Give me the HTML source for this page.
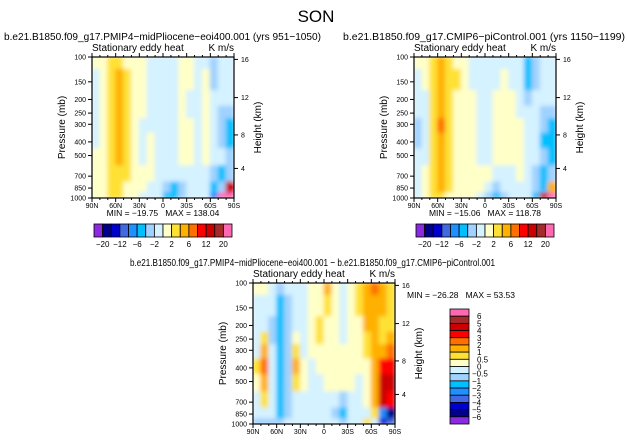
<!DOCTYPE html>
<html><head><meta charset="utf-8"><style>
html,body{margin:0;padding:0;background:#fff;width:627px;height:442px;overflow:hidden}
svg text{font-family:"Liberation Sans",sans-serif;fill:#000;white-space:pre}
</style></head><body>
<svg id="c" width="627" height="442" viewBox="0 0 627 442" xmlns="http://www.w3.org/2000/svg">
<defs><filter id="sm" x="0" y="0" width="1" height="1"><feGaussianBlur stdDeviation="2.2" edgeMode="duplicate"/></filter></defs>
<text x="316" y="22" font-size="17" text-anchor="middle">SON</text>
</svg>
<script>
// ---------- data ----------
const lats = [85,75,65,55,45,35,25,15,5,-5,-15,-25,-35,-45,-55,-65,-75,-85];
const levels = [100,150,200,250,300,400,500,700,850,1000];
const latTicks = ['90N','60N','30N','0','30S','60S','90S'];
const latTickVals = [90,60,30,0,-30,-60,-90];
const heightTickLabels = ['4','8','12','16'];
const heightTickPressure = [617,357,194,104];
const boundsTop = [-20,-16,-12,-8,-6,-4,-2,0,2,4,6,8,12,16,20];
const boundsTopLabels = ['\u221220','\u221212','\u22126','\u22122','2','6','12','20'];
const boundsDiff = [-6,-5,-4,-3,-2,-1,-0.5,0,0.5,1,2,3,4,5,6];
const boundsDiffLabels = ['\u22126','\u22125','\u22124','\u22123','\u22122','\u22121','\u22120.5','0','0.5','1','2','3','4','5','6'];
const palette = ['#8a2be2','#00008b','#0000cd','#4169e1','#1e90ff','#00bfff','#a0d2ff','#d4f2ff','#ffffc8','#ffe135','#ffb000','#ff7000','#ff0000','#cc0000','#a52a2a','#ff69b4'];
const gridA = [
[1,1,3,3,1,1,1,-1,-1,-1,-1,1,1,-1,-1,-3,-1,-1],
[-1,1,3,5,3,1,1,-1,-1,-1,-1,1,1,-1,1,-3,-1,-1],
[-1,1,3,5,3,1,1,-1,-1,-1,-1,1,-1,-1,1,-1,-1,-1],
[-1,1,3,5,3,1,1,-1,-1,-1,-1,1,-1,-1,1,-1,-3,-3],
[-1,1,3,5,3,1,-1,-1,-1,-1,-1,1,1,-1,1,-1,-3,-5],
[-1,1,3,5,3,1,-1,1,-1,-1,-1,1,1,-1,1,-1,-3,-5],
[1,1,3,5,3,1,-1,1,-1,-1,-1,1,1,-1,1,-1,-1,-3],
[1,1,3,3,3,1,1,1,-1,-1,-1,-1,-1,-1,-1,-3,-5,-3],
[1,1,3,3,1,1,1,-1,-1,-3,-5,-3,-1,-1,-1,-5,-3,14],
[1,1,3,3,1,1,-1,-1,-1,-5,-5,-3,-1,-1,-1,-7,25,25]];
const gridB = [
[1,1,3,5,3,1,1,-1,-1,-1,-1,-1,-1,-1,-5,-3,-1,-1],
[-1,1,3,5,3,3,1,-1,-1,-1,-1,1,-1,-1,-5,-3,-1,-1],
[-1,-1,3,5,3,1,1,1,-1,-1,1,1,1,-1,-3,-1,-1,-1],
[-1,-1,3,5,3,1,1,1,-1,-1,1,1,1,-1,-1,-1,-3,-3],
[-3,-1,3,7,3,1,1,1,-1,-1,1,1,1,1,-1,-1,-3,-5],
[-3,-1,3,5,3,1,1,1,-1,-1,1,1,1,1,-1,-1,-5,-5],
[-1,-1,3,5,3,1,1,1,-1,-1,1,1,1,1,-1,-1,-3,-5],
[-1,1,3,5,3,1,1,1,1,1,-1,-1,-1,1,-1,-3,-5,-3],
[-1,1,3,5,3,1,1,1,1,-1,-3,-1,-1,-1,-1,-3,-5,5],
[-1,1,3,3,1,1,1,1,-1,-3,-5,-3,-1,-1,-1,-5,14,25]];
const gridC = [
[0.3,0.3,-0.3,-0.7,-0.3,-0.3,-0.3,0.3,0.3,1.5,0.3,-0.3,0.3,0.7,1.5,2.5,1.5,0.7],
[-0.3,-0.3,-0.3,-1.5,-0.7,-0.3,-0.3,0.3,0.3,0.7,0.3,-0.3,0.3,0.7,1.5,1.5,1.5,0.7],
[-0.3,-0.3,-0.7,-1.5,-0.7,-0.3,-0.3,0.3,0.7,0.3,0.3,-0.3,0.3,0.3,1.5,1.5,0.7,0.7],
[-0.3,0.7,-0.7,-1.5,-0.7,0.3,-0.3,0.3,0.7,0.3,0.3,-0.3,0.3,0.3,0.7,1.5,0.7,1.5],
[-0.3,1.5,-0.3,-1.5,-0.7,0.7,-0.3,0.3,0.3,0.3,0.3,0.3,0.3,0.3,0.7,1.5,1.5,2.5],
[0.7,2.5,-0.3,-1.5,-0.7,1.5,0.3,-0.3,0.3,0.3,0.3,0.3,0.3,0.3,0.3,1.5,3.5,3.5],
[0.3,1.5,-0.3,-1.5,-0.7,0.7,0.3,-0.3,-0.3,0.3,0.3,0.3,0.3,-0.3,0.3,1.5,4.5,4.5],
[-0.3,0.7,-0.3,-1.5,-0.7,-0.3,-0.3,-0.3,-0.3,-0.3,-0.3,-0.7,-0.3,-0.3,0.3,1.5,4.5,3.5],
[-0.3,-0.3,-0.3,-1.5,-0.7,-0.3,-0.3,-0.3,-0.3,-0.3,-0.7,-1.5,-0.3,-0.3,-0.3,0.7,-2.5,-5.5],
[-0.7,-0.7,-0.7,-0.7,-0.3,-0.3,-0.3,-0.3,-0.3,-0.3,-0.3,-0.7,-0.3,-0.3,0.7,-0.3,-4.5,-3.5]];

// ---------- drawing ----------
const NS='http://www.w3.org/2000/svg';
const svg=document.getElementById('c');
function mk(tag,attrs,parent){const e=document.createElementNS(NS,tag);for(const k in attrs)e.setAttribute(k,attrs[k]);(parent||svg).appendChild(e);return e;}
function txt(s,x,y,size,anchor,parent){const t=mk('text',{x:x,y:y,'font-size':size,'text-anchor':anchor||'start'},parent);t.textContent=s;return t;}
function colorFor(v,b){let i=0;while(i<b.length&&v>=b[i])i++;return palette[i];}

function panel(name,x0,y0,w,h,grid,bounds,title,tx,tw,minmax,mmx,mmy){
  const g=mk('g',{});
  
  
  const xOf=lat=>x0+(90-lat)/180*w;
  const yOf=p=>y0+h*Math.log10(p/100);
  const cid='clip'+name;
  const cp=mk('clipPath',{id:cid},g);mk('rect',{x:x0,y:y0,width:w,height:h},cp);
  const field=mk('g',{'clip-path':'url(#'+cid+')'},g);
  const fg=mk('g',{filter:'url(#sm)'},field);
  for(let r=0;r<levels.length;r++){
    const pt=r===0?100:Math.sqrt(levels[r-1]*levels[r]);
    const pb=r===levels.length-1?1000:Math.sqrt(levels[r]*levels[r+1]);
    for(let c=0;c<lats.length;c++){
      const xa=xOf(lats[c]+5)-0.5, xb=xOf(lats[c]-5)+0.5;
      const cell=mk('rect',{x:xa,y:yOf(pt)-0.5,width:xb-xa,height:yOf(pb)-yOf(pt)+1,fill:colorFor(grid[r][c],bounds)},fg);
      
      
    }
  }
  mk('rect',{x:x0,y:y0,width:w,height:h,fill:'none',stroke:'#000','stroke-width':1.2},g);
  for(let l=-90;l<=90;l+=10){const x=xOf(l);mk('line',{x1:x,y1:y0+h,x2:x,y2:y0+h+(l%30===0?4:2),stroke:'#000'},g);mk('line',{x1:x,y1:y0,x2:x,y2:y0-(l%30===0?4:2),stroke:'#000'},g);}
  latTickVals.forEach((l,i)=>{const t=txt(latTicks[i],xOf(l),y0+h+10,7,'middle',g);});
  levels.forEach(p=>{const y=yOf(p);mk('line',{x1:x0-4,y1:y,x2:x0,y2:y,stroke:'#000'},g);const t=txt(String(p),x0-6,y+2.5,7,'end',g);});
  heightTickPressure.forEach((p,i)=>{const y=yOf(p);mk('line',{x1:x0+w,y1:y,x2:x0+w+4,y2:y,stroke:'#000'},g);const t=txt(heightTickLabels[i],x0+w+7,y+2.5,7,'start',g);});
  const yl=txt('Pressure (mb)',0,0,10,'middle',g);yl.setAttribute('transform','translate('+(x0-27)+','+(y0+h/2)+') rotate(-90)');
  
  const hl=txt('Height (km)',0,0,10,'middle',g);hl.setAttribute('transform','translate('+(x0+w+27)+','+(y0+h/2)+') rotate(-90)');
  
  const s1=txt('Stationary eddy heat',x0,y0-6,10,'start',g);
  const s2=txt('K m/s',x0+w,y0-6,10,'end',g);
  const tt=txt(title,tx,y0-17,10.5,'start',g);tt.setAttribute('textLength',tw);tt.setAttribute('lengthAdjust','spacingAndGlyphs');
  
  const mm=txt(minmax,mmx,mmy,8.5,'middle',g);
}
function hbar(name,x0,y0,w,h){
  const g=mk('g',{});
  const n=palette.length,bw=w/n;
  for(let i=0;i<n;i++){const b=mk('rect',{x:x0+i*bw,y:y0,width:bw,height:h,fill:palette[i],stroke:'#000','stroke-width':0.8},g);}
  boundsTopLabels.forEach((s,k)=>{const t=txt(s,x0+(2*k+1)*bw,y0+h+10,8,'middle',g);});
}
panel('panel-midpliocene',92,57,142,141,gridA,boundsTop,'b.e21.B1850.f09_g17.PMIP4\u2212midPliocene\u2212eoi400.001 (yrs 951\u22121050)',4,317,'MIN = \u221219.75   MAX = 138.04',163,216);
panel('panel-picontrol',414,57,142,141,gridB,boundsTop,'b.e21.B1850.f09_g17.CMIP6\u2212piControl.001 (yrs 1150\u22121199)',343,282,'MIN = \u221215.06   MAX = 118.78',485,216);
panel('panel-difference',253,283,142,141,gridC,boundsDiff,'b.e21.B1850.f09_g17.PMIP4\u2212midPliocene\u2212eoi400.001 \u2212 b.e21.B1850.f09_g17.CMIP6\u2212piControl.001',130,365,'MIN = \u221226.28   MAX = 53.53',461,298);
hbar('colorbar-midpliocene',94,224,138,13);
hbar('colorbar-picontrol',416,224,138,13);
(function(){
  const x0=450,y0=309,w=19,h=115;const g=mk('g',{});
  
  const n=palette.length,bh=h/n;
  for(let i=0;i<n;i++){const b=mk('rect',{x:x0,y:y0+i*bh,width:w,height:bh,fill:palette[n-1-i],stroke:'#000','stroke-width':0.8},g);}
  for(let k=0;k<boundsDiffLabels.length;k++){const lab=boundsDiffLabels[boundsDiffLabels.length-1-k];const t=txt(lab,lab[0]==='\u2212'?x0+w+3:x0+w+8,y0+(k+1)*bh+3,8,'start',g);}
})();
</script>
</body></html>
